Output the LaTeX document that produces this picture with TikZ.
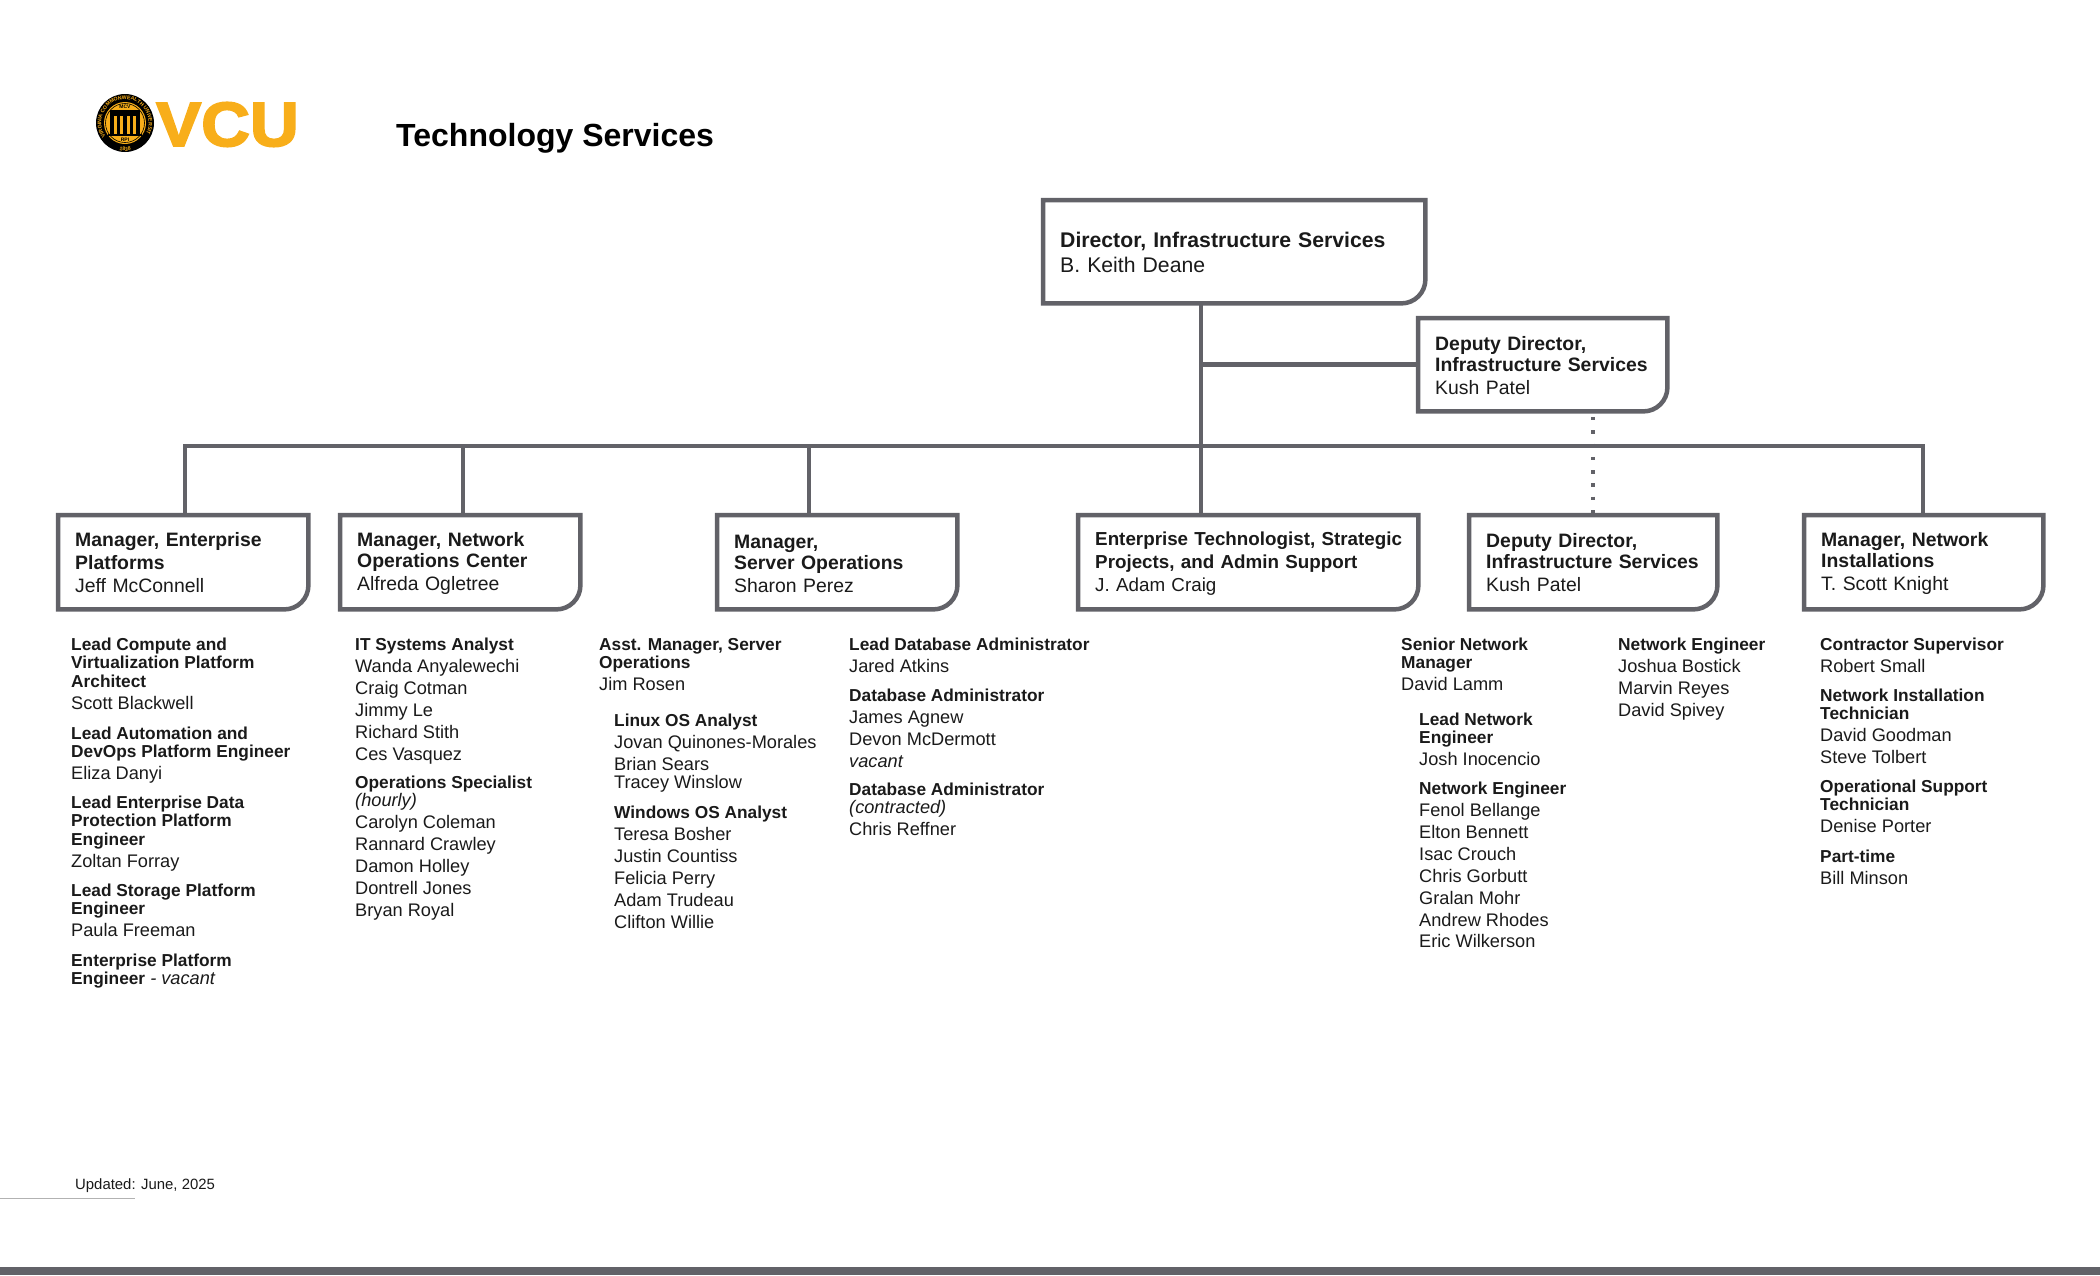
\documentclass[tikz,border=0pt]{standalone}
\usepackage{fontspec}
\usetikzlibrary{decorations.text}
\setmainfont{Liberation Sans}
\newfontfamily\vcufont[BoldFeatures={FakeBold=3,FakeStretch=1.08}]{Liberation Sans}
\definecolor{orgline}{HTML}{626268}
\definecolor{vcugold}{HTML}{F8AE1A}
\definecolor{ink}{HTML}{1A1A1A}
\newcommand{\T}[1]{{\fontsize{17.3}{22}\selectfont\bfseries #1}}
\newcommand{\BT}[1]{\mbox{\textbf{#1}}}
\newcommand{\brk}{\\[-3.3pt]}
\newcommand{\tbrk}{\\[-2pt]}
\newcommand{\up}{\rule{0pt}{16.5pt}}
\newcommand{\orgbox}[7][]{%
  \node[boxtext,#1,minimum width=#5-#3,minimum height=#6-#4,text width=#5-#3-34,anchor=north west] (#2) at (#3,#4) {#7};
  \draw[boxline] (#2.north west) -- (#2.north east) {[rounded corners=24pt] -- (#2.south east)} -- (#2.south west) -- cycle;
}
% y is the baseline of the first line of the block
\newcommand{\blk}[4]{\node[listtext] (#1) at (#2,#3-14) {\rule{0pt}{14pt}#4};}
\tikzset{
  boxline/.style={draw=orgline,line width=4.5pt,line join=miter},
  conn/.style={draw=orgline,line width=4.5pt,line cap=rect},
  dotline/.style={draw=orgline,line width=3.5pt,dash pattern=on 3.5pt off 9.8pt},
  boxtext/.style={inner xsep=17pt,inner ysep=0pt,align=left,font=\fontsize{19.4}{23}\selectfont,text=ink},
  listtext/.style={anchor=north west,inner sep=0pt,align=left,font=\fontsize{18.2}{22}\selectfont,text=ink},
  sealtext/.style={inner sep=0pt,font=\bfseries\fontsize{5}{6}\selectfont,text=black},
}
\begin{document}
\begin{tikzpicture}[x=1pt,y=-1pt]
\useasboundingbox (0,0) rectangle (2100,1275);
\fill[orgline] (0,1267) rectangle (2100,1275);
\draw[black!30,line width=1pt] (0,1198) -- (135,1198);
\node[anchor=base west,inner sep=0pt,font=\fontsize{14.9}{18}\selectfont,text=ink] (upd) at (75,1189) {Updated: June, 2025};
% logo
\coordinate (seal) at (125,123);
\fill[black] (seal) circle (29);
\fill[vcugold] (seal) circle (21);
\draw[black,line width=.6pt] (seal) circle (19.5);
\fill[black] (110,110) rectangle (140,116);
\fill[black] (108,134) rectangle (142,136);
\foreach \cx in {112,118.5,125,131.5,138} \fill[black] (\cx-1.7,116) rectangle (\cx+1.7,134);
\node[sealtext] (mcv) at (125,106.5) {MCV};
\node[sealtext] (rpi) at (125,139.5) {RPI};
\begin{scope}[shift={(seal)},x=1pt,y=1pt]
\path[decorate,decoration={text along path,text align=center,text={|\fontsize{5.2}{6}\bfseries\color{vcugold}|VIRGINIA COMMONWEALTH UNIVERSITY}}] (-21.5,-10) arc[start angle=205,end angle=-25,radius=23.7pt];
\path[decorate,decoration={text along path,text align=center,text={|\fontsize{5.2}{6}\bfseries\color{vcugold}|1838}}] (-12,-25.2) arc[start angle=244,end angle=296,radius=27.9pt];
\end{scope}
\node[inner sep=0pt,font=\vcufont\bfseries\fontsize{62.5}{67}\selectfont,text=vcugold,anchor=base west] (vcu) at (156,146) {VCU};
\node[anchor=base west,inner sep=0pt,font=\bfseries\fontsize{32}{36}\selectfont,text=black] (title) at (396,146) {Technology Services};
% boxes
\orgbox[font=\fontsize{21.2}{25}\selectfont]{dir}{1043}{200}{1425}{303}{\up\BT{Director, Infrastructure Services}\\B. Keith Deane}
\orgbox{dep}{1418}{318}{1667}{411}{\up\BT{Deputy Director,}\tbrk\BT{Infrastructure Services}\\Kush Patel}
\orgbox{bA}{58}{515}{308}{609}{\BT{Manager, Enterprise}\\\BT{Platforms}\\Jeff McConnell}
\orgbox{bB}{340}{515}{580}{609}{\up\BT{Manager, Network}\tbrk\BT{Operations Center}\\Alfreda Ogletree}
\orgbox{bC}{717}{515}{957}{609}{\up\BT{Manager,}\tbrk\BT{Server Operations}\\Sharon Perez}
\orgbox[font=\fontsize{18.8}{23}\selectfont]{bD}{1078}{515}{1418}{609}{\up\BT{Enterprise Technologist, Strategic}\\\BT{Projects, and Admin Support}\\J. Adam Craig}
\orgbox{bE}{1469}{515}{1717}{609}{\BT{Deputy Director,}\tbrk\BT{Infrastructure Services}\\Kush Patel}
\orgbox{bF}{1804}{515}{2043}{609}{\up\BT{Manager, Network}\tbrk\BT{Installations}\\T. Scott Knight}
% connectors
\coordinate (bus) at (0,446);
\coordinate (trunk) at (1201,0);
\coordinate (sA) at (185,0);
\coordinate (sB) at (463,0);
\coordinate (sC) at (809,0);
\coordinate (sF) at (1923,0);
\coordinate (dots) at (1593,0);
\draw[conn] (trunk |- dir.south) -- (trunk |- bD.north);
\draw[conn] (trunk |- dep.west) -- (dep.west);
\draw[conn] (sA |- bus) -- (sF |- bus);
\draw[conn] (sA |- bus) -- (sA |- bA.north);
\draw[conn] (sB |- bus) -- (sB |- bB.north);
\draw[conn] (sC |- bus) -- (sC |- bC.north);
\draw[conn] (sF |- bus) -- (sF |- bF.north);
\draw[dotline] (dots |- dep.south) ++(0,5.5) -- (dots |- bE.north);
% lists
\blk{a1}{71}{650}{\T{Lead Compute and}\brk\T{Virtualization Platform}\brk\T{Architect}\\Scott Blackwell}
\blk{a2}{71}{739}{\T{Lead Automation and}\brk\T{DevOps Platform Engineer}\\Eliza Danyi}
\blk{a3}{71}{808}{\T{Lead Enterprise Data}\brk\T{Protection Platform}\brk\T{Engineer}\\Zoltan Forray}
\blk{a4}{71}{896}{\T{Lead Storage Platform}\brk\T{Engineer}\\Paula Freeman}
\blk{a5}{71}{966}{\T{Enterprise Platform}\brk\T{Engineer} \textit{- vacant}}
\blk{b1}{355}{650}{\T{IT Systems Analyst}\\Wanda Anyalewechi\\Craig Cotman\\Jimmy Le\\Richard Stith\\Ces Vasquez}
\blk{b2}{355}{788}{\T{Operations Specialist}\brk\textit{(hourly)}\\Carolyn Coleman\\Rannard Crawley\\Damon Holley\\Dontrell Jones\\Bryan Royal}
\blk{c1}{599}{650}{\T{Asst. Manager, Server}\brk\T{Operations}\\Jim Rosen}
\blk{c2}{614}{726}{\T{Linux OS Analyst}\\Jovan Quinones-Morales\\Brian Sears\brk Tracey Winslow}
\blk{c3}{614}{818}{\T{Windows OS Analyst}\\Teresa Bosher\\Justin Countiss\\Felicia Perry\\Adam Trudeau\\Clifton Willie}
\blk{d1}{849}{650}{\T{Lead Database Administrator}\\Jared Atkins}
\blk{d2}{849}{701}{\T{Database Administrator}\\James Agnew\\Devon McDermott\\\textit{vacant}}
\blk{d3}{849}{795}{\T{Database Administrator}\brk\textit{(contracted)}\\Chris Reffner}
\blk{e1}{1401}{650}{\T{Senior Network}\brk\T{Manager}\\David Lamm}
\blk{e2}{1419}{725}{\T{Lead Network}\brk\T{Engineer}\\Josh Inocencio}
\blk{e3}{1419}{794}{\T{Network Engineer}\\Fenol Bellange\\Elton Bennett\\Isac Crouch\\Chris Gorbutt\\Gralan Mohr\\Andrew Rhodes\\[-1pt]Eric Wilkerson}
\blk{f1}{1618}{650}{\T{Network Engineer}\\Joshua Bostick\\Marvin Reyes\\David Spivey}
\blk{g1}{1820}{650}{\T{Contractor Supervisor}\\Robert Small}
\blk{g2}{1820}{701}{\T{Network Installation}\brk\T{Technician}\\David Goodman\\Steve Tolbert}
\blk{g3}{1820}{792}{\T{Operational Support}\brk\T{Technician}\\Denise Porter}
\blk{g4}{1820}{862}{\T{Part-time}\\Bill Minson}
\end{tikzpicture}
\end{document}
